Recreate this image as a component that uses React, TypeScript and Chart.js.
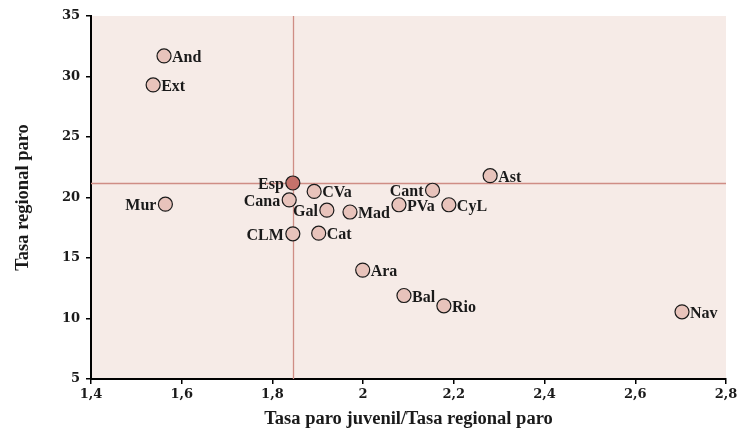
import React, { useEffect, useRef } from "react";
import { Chart, registerables } from "chart.js";

Chart.register(...registerables);

const regions = ["And", "Ext", "Mur", "Esp", "Cana", "CVa", "Gal", "Mad", "CLM", "Cat", "Ara", "Cant", "PVa", "CyL", "Ast", "Bal", "Rio", "Nav"];
const ratioX = [1.561, 1.537, 1.564, 1.845, 1.837, 1.892, 1.92, 1.971, 1.845, 1.902, 1.999, 2.153, 2.079, 2.189, 2.28, 2.09, 2.178, 2.703];
const rateY = [31.7, 29.3, 19.45, 21.2, 19.8, 20.5, 18.95, 18.8, 17.0, 17.05, 14.0, 20.6, 19.4, 19.4, 21.8, 11.9, 11.05, 10.55];
const labelLeft = ["Mur", "Esp", "Cana", "CLM", "Cant", "Gal"];
const referenceName = "Esp";
const xTicks = [1.4, 1.6, 1.8, 2, 2.2, 2.4, 2.6, 2.8];
const yTicks = [5, 10, 15, 20, 25, 30, 35];

const FONT = "'DejaVu Serif', serif";
const TEXT_FONT = "'Liberation Serif', 'DejaVu Serif', serif";

export default function App() {
  const ref = useRef<HTMLCanvasElement | null>(null);
  useEffect(() => {
    document.body.style.margin = "0";
    const canvas = ref.current!;
    const refIdx = regions.indexOf(referenceName);

    const bgPlugin = {
      id: "bgcross",
      beforeDraw(chart: any) {
        const { ctx, chartArea: a } = chart;
        ctx.save();
        ctx.fillStyle = "#f6ebe7";
        ctx.fillRect(a.left, a.top, a.right - a.left, a.bottom - a.top);
        ctx.restore();
      },
      beforeDatasetsDraw(chart: any) {
        const { ctx, chartArea: a, scales } = chart;
        ctx.save();
        const px = scales.x.getPixelForValue(ratioX[refIdx]);
        const py = scales.y.getPixelForValue(rateY[refIdx]);
        ctx.strokeStyle = "#cf8d85";
        ctx.lineWidth = 1.3;
        ctx.beginPath();
        ctx.moveTo(Math.round(px) + 0.5, a.top);
        ctx.lineTo(Math.round(px) + 0.5, a.bottom);
        ctx.moveTo(a.left, Math.round(py) + 0.5);
        ctx.lineTo(a.right, Math.round(py) + 0.5);
        ctx.stroke();
        ctx.restore();
      },
      afterDatasetsDraw(chart: any) {
        const { ctx, scales } = chart;
        ctx.save();
        ctx.font = `bold 16px ${TEXT_FONT}`;
        ctx.fillStyle = "#1a1a1a";
        ctx.textBaseline = "alphabetic";
        regions.forEach((name, i) => {
          const px = scales.x.getPixelForValue(ratioX[i]);
          const py = scales.y.getPixelForValue(rateY[i]);
          if (labelLeft.includes(name)) {
            ctx.textAlign = "right";
            ctx.fillText(name, px - 9, py + 6);
          } else {
            ctx.textAlign = "left";
            ctx.fillText(name, px + 8, py + 6);
          }
        });
        ctx.restore();
      },
    };

    const chart = new Chart(canvas, {
      type: "scatter",
      data: {
        datasets: [
          {
            data: regions.map((_, i) => ({ x: ratioX[i], y: rateY[i] })),
            pointRadius: 7,
            pointHoverRadius: 7,
            pointBackgroundColor: regions.map((n) => (n === referenceName ? "#c4726b" : "#e8c3bb")),
            pointBorderColor: "#1a1a1a",
            pointBorderWidth: 1.2,
          },
        ],
      },
      options: {
        responsive: false,
        animation: false,
        events: [],
        layout: { padding: { top: 16, right: 15, left: 0, bottom: 0 } },
        plugins: { legend: { display: false }, tooltip: { enabled: false } },
        scales: {
          x: {
            type: "linear",
            min: 1.4,
            max: 2.8,
            afterBuildTicks: (s: any) => {
              s.ticks = xTicks.map((v) => ({ value: v }));
            },
            afterFit: (s: any) => {
              s.height = 68;
            },
            grid: { display: true, drawOnChartArea: false, drawTicks: true, tickLength: 5, color: "#000", lineWidth: 1.5 },
            border: { display: true, color: "#000", width: 2 },
            ticks: {
              color: "#1a1a1a",
              padding: 3,
              font: { family: FONT, size: 13, weight: "bold" },
              callback: (v: any) => String(v).replace(".", ","),
            },
            title: {
              display: true,
              text: "Tasa paro juvenil/Tasa regional paro",
              color: "#1a1a1a",
              font: { family: TEXT_FONT, size: 18.5, weight: "bold" },
              padding: { top: 8, bottom: 17 },
            },
          },
          y: {
            type: "linear",
            min: 5,
            max: 35,
            afterBuildTicks: (s: any) => {
              s.ticks = yTicks.map((v) => ({ value: v }));
            },
            afterFit: (s: any) => {
              s.width = 91;
            },
            grid: { display: true, drawOnChartArea: false, drawTicks: true, tickLength: 5, color: "#000", lineWidth: 1.5 },
            border: { display: true, color: "#000", width: 2 },
            ticks: {
              color: "#1a1a1a",
              padding: 6,
              font: { family: FONT, size: 13, weight: "bold" },
            },
            title: {
              display: true,
              text: "Tasa regional paro",
              color: "#1a1a1a",
              font: { family: TEXT_FONT, size: 18.5, weight: "bold" },
              padding: { top: 12, bottom: 0 },
            },
          },
        },
      },
      plugins: [bgPlugin],
    } as any);
    return () => chart.destroy();
  }, []);

  return (
    <div style={{ position: "fixed", left: 0, top: 0, width: 741, height: 447, background: "#fff" }}>
      <canvas ref={ref} width={741} height={447} style={{ display: "block" }} />
    </div>
  );
}
